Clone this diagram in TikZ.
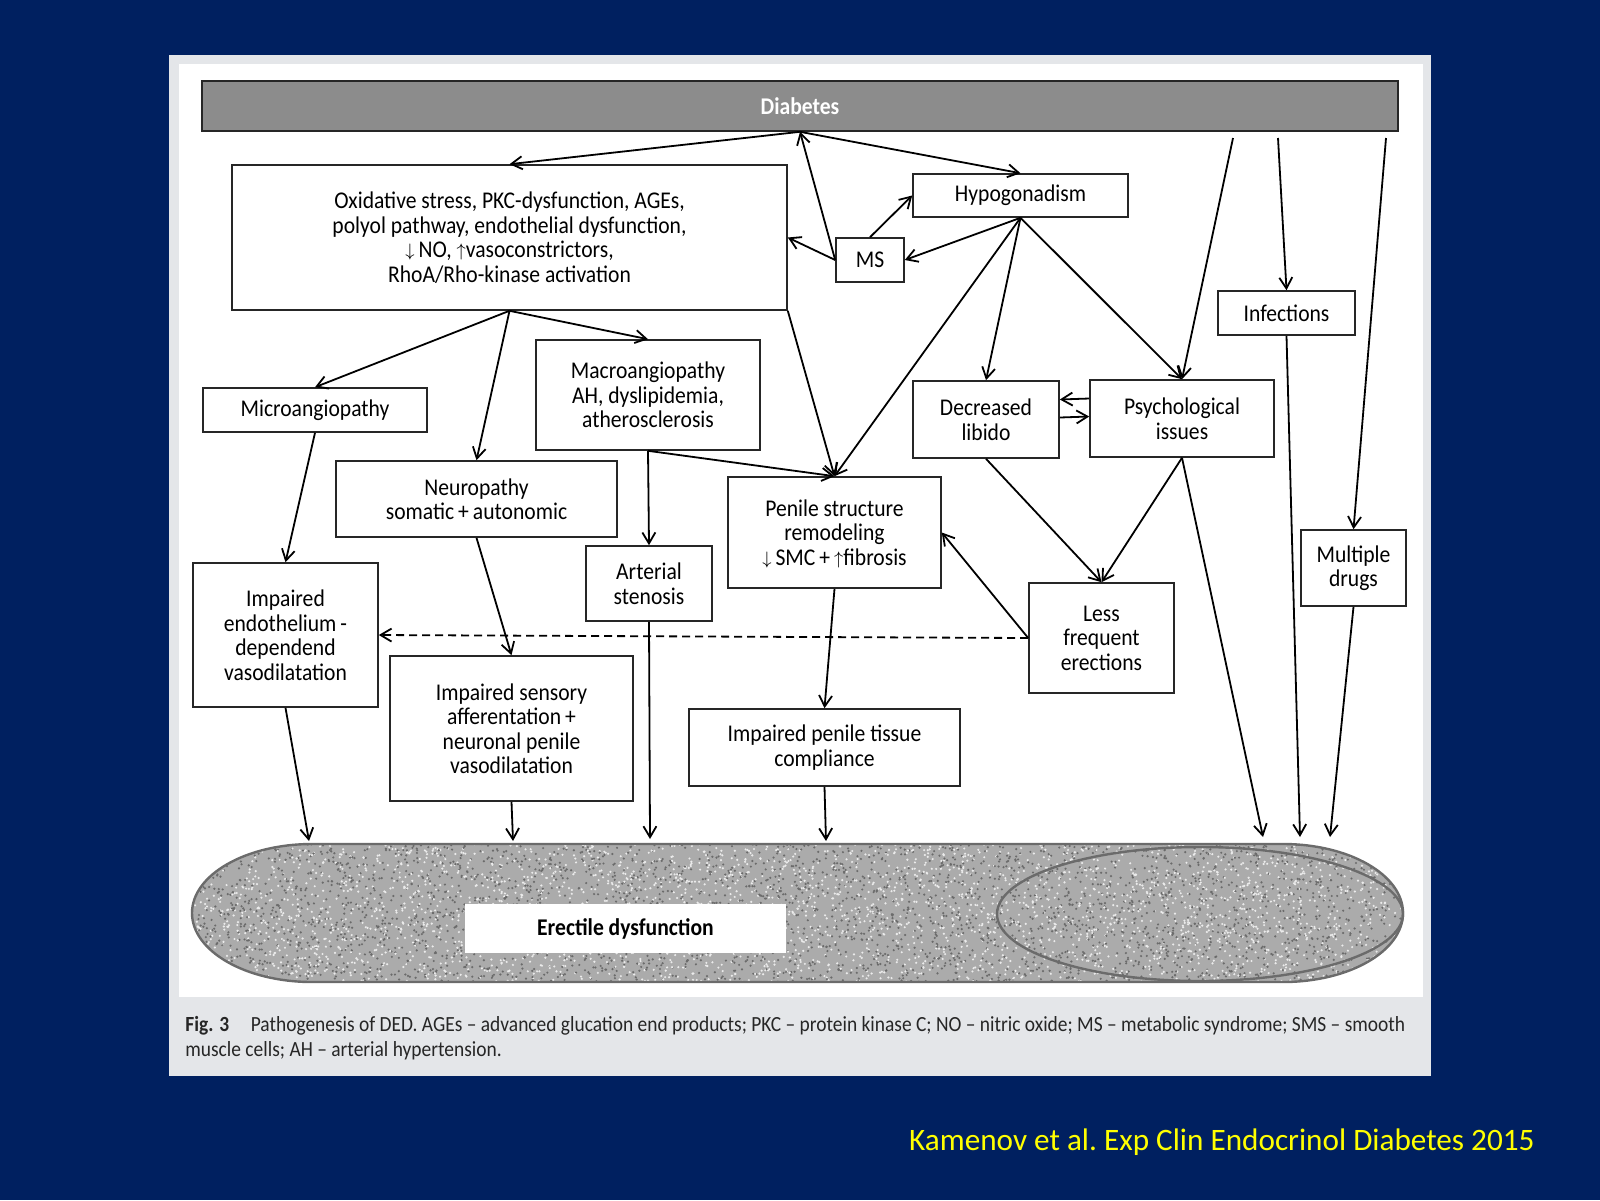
\documentclass[tikz,border=0pt]{standalone}
\usepackage{fontspec}
\setmainfont{Carlito}
\newfontfamily\figfont[FakeStretch=0.9]{Carlito}
\usetikzlibrary{arrows.meta}
\definecolor{slideblue}{RGB}{0,32,96}
\definecolor{panelgray}{RGB}{228,230,233}
\definecolor{bargray}{RGB}{140,140,140}
\definecolor{citeyellow}{RGB}{255,255,0}
\newcommand{\dn}{\smash{\raisebox{0.6pt}{\fontsize{9}{9}\selectfont$\downarrow$}}}
\newcommand{\upa}{\smash{\raisebox{0.6pt}{\fontsize{9}{9}\selectfont$\uparrow$}}}

\begin{document}
\begin{tikzpicture}[x=0.5pt,y=-0.5pt,
    box/.style 2 args={draw=black!85,line width=0.8pt,fill=white,align=center,
      minimum width=#1*0.5pt,minimum height=#2*0.5pt,inner sep=0pt,
      font=\figfont\fontsize{12}{12.25}\selectfont},
    arr/.style={-{Straight Barb[length=5.5pt,width=6.5pt]},line width=0.9pt}]
    % Slide and figure panel
    \fill[slideblue] (0,0) rectangle (1600,1200);
    \fill[panelgray] (169,55) rectangle (1431,1076);
    \fill[white] (179,64) rectangle (1423,997);
    % Erectile dysfunction area
    \begin{scope}
      \clip (312,844) arc[start angle=90,end angle=270,x radius=60pt,y radius=34.5pt]
        -- (1283,982) arc[start angle=-90,end angle=90,x radius=60pt,y radius=34.5pt] -- cycle;
      \fill[black!33] (190,840) rectangle (1406,986);
      \pgfmathsetseed{11}
      \foreach \i in {1,...,3200}{
        \pgfmathsetmacro{\px}{192+1211*rnd}
        \pgfmathsetmacro{\py}{844+138*rnd}
        \fill[black!58] (\px,\py) circle[radius=0.6pt];
        \pgfmathsetmacro{\qx}{192+1211*rnd}
        \pgfmathsetmacro{\qy}{844+138*rnd}
        \fill[black!8] (\qx,\qy) circle[radius=0.6pt];
      }
    \end{scope}
    \draw[black!58,line width=1.2pt] (312,844) arc[start angle=90,end angle=270,x radius=60pt,y radius=34.5pt]
      -- (1283,982) arc[start angle=-90,end angle=90,x radius=60pt,y radius=34.5pt] -- cycle;
    \draw[black!58,line width=1.2pt] (1200,914) ellipse[x radius=101.5pt,y radius=33.5pt];
    % Nodes
    \node[box={1196}{50},fill=bargray,text=white,font=\figfont\bfseries\fontsize{12}{12}\selectfont] (diab) at (800,106) {Diabetes};
    \node[box={555}{145}] (oxi) at (509.5,237.5) {Oxidative stress, PKC-dysfunction, AGEs,\\ polyol pathway, endothelial dysfunction,\\ \dn\,NO, \upa vasoconstrictors,\\ RhoA/Rho-kinase activation};
    \node[box={215}{43}] (hypo) at (1020.5,195.5) {Hypogonadism};
    \node[box={68}{44}] (ms) at (870,260) {MS};
    \node[box={137}{44}] (infe) at (1286.5,313) {Infections};
    \node[box={224}{44}] (micro) at (315,410) {Microangiopathy};
    \node[box={224}{110}] (macro) at (648,395) {Macroangiopathy\\ AH, dyslipidemia,\\ atherosclerosis};
    \node[box={146}{77}] (libido) at (986,419.5) {Decreased\\ libido};
    \node[box={184}{77}] (psych) at (1182,418.5) {Psychological\\ issues};
    \node[box={281}{76}] (neuro) at (476.5,499) {Neuropathy\\ somatic\,+\,autonomic};
    \node[box={213}{111}] (penile) at (834.5,532.5) {Penile structure\\ remodeling\\ \dn\,SMC\,+\,\upa fibrosis};
    \node[box={126}{75}] (arter) at (649,583.5) {Arterial\\ stenosis};
    \node[box={105}{76}] (drugs) at (1353.5,568) {Multiple\\ drugs};
    \node[box={185}{144}] (endo) at (285.5,635) {Impaired\\ endothelium\,-\\ dependend\\ vasodilatation};
    \node[box={145}{110}] (less) at (1101.5,638) {Less\\ frequent\\ erections};
    \node[box={243}{145}] (senso) at (511.5,728.5) {Impaired sensory\\ afferentation\,+\\ neuronal penile\\ vasodilatation};
    \node[box={271}{77}] (tissue) at (824.5,747.5) {Impaired penile tissue\\ compliance};
    \node[box={321}{49},draw=none,font=\figfont\bfseries\fontsize{12}{12}\selectfont] (ed) at (625.5,928.5) {Erectile dysfunction};
    % Free ends
    \coordinate (d1) at (1233,138);
    \coordinate (d2) at (1278,138);
    \coordinate (d3) at (1386,138);
    \coordinate (e1) at (309,841);
    \coordinate (e2) at (513,841);
    \coordinate (e3) at (650,839);
    \coordinate (e4) at (826,841);
    \coordinate (e5) at (1263,837);
    \coordinate (e6) at (1300,837);
    \coordinate (e7) at (1330,837);
    % Edges
    \path[arr] (diab.south) edge (oxi.north);
    \path[arr] (diab.south) edge (hypo.north);
    \path[arr] (ms.west) edge (diab.south);
    \path[arr] (ms.west) edge (oxi.east);
    \path[arr] (ms.north) edge (hypo.west);
    \path[arr] (hypo.south) edge (ms.east);
    \path[arr] (hypo.south) edge (penile.north);
    \path[arr] (hypo.south) edge (libido.north);
    \path[arr] (hypo.south) edge (psych.north);
    \path[arr] (d1) edge (psych.north);
    \path[arr] (d2) edge (infe.north);
    \path[arr] (d3) edge (drugs.north);
    \path[arr] (oxi.south) edge (micro.north);
    \path[arr] (oxi.south) edge (neuro.north);
    \path[arr] (oxi.south) edge (macro.north);
    \path[arr] (oxi.south east) edge (penile.north);
    \path[arr] (macro.south) edge (arter.north);
    \path[arr] (macro.south) edge (penile.north);
    \path[arr] (micro.south) edge (endo.north);
    \path[arr] (neuro.south) edge (senso.north);
    \path[arr] (penile.south) edge (tissue.north);
    \path[arr] ([yshift=10pt]psych.west) edge ([yshift=10pt]libido.east);
    \path[arr] ([yshift=1pt]libido.east) edge ([yshift=1pt]psych.west);
    \path[arr] (libido.south) edge (less.north);
    \path[arr] (psych.south) edge (less.north);
    \path[arr] (less.west) edge (penile.east);
    \path[arr,dash pattern=on 4pt off 2.5pt] (less.west) edge (endo.east);
    \path[arr] (endo.south) edge (e1);
    \path[arr] (senso.south) edge (e2);
    \path[arr] (arter.south) edge (e3);
    \path[arr] (tissue.south) edge (e4);
    \path[arr] (psych.south) edge (e5);
    \path[arr] (infe.south) edge (e6);
    \path[arr] (drugs.south) edge (e7);
    % Caption and source
    \node[anchor=north west,align=left,inner sep=0pt,text=black!85,
      font=\figfont\fontsize{10.8}{12.5}\selectfont] (cap) at (185,1016)
      {\textbf{Fig. 3}\quad Pathogenesis of DED. AGEs – advanced glucation end products; PKC – protein kinase C; NO – nitric oxide; MS – metabolic syndrome; SMS – smooth\\ muscle cells; AH – arterial hypertension.};
    \node[anchor=east,inner sep=0pt,text=citeyellow,font=\fontsize{15.6}{18}\selectfont] (cite) at (1535,1142)
      {Kamenov et al.\ Exp Clin Endocrinol Diabetes 2015};
\end{tikzpicture}
\end{document}
